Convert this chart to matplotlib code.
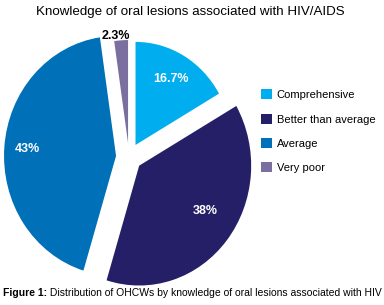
import matplotlib
matplotlib.use("Agg")
import matplotlib.pyplot as plt
import numpy as np
from matplotlib import font_manager as fm

categories = ["Comprehensive", "Better than average", "Average", "Very poor"]
values = [16.7, 38, 43, 2.3]
colors = ["#00AEEF", "#241F66", "#0070B8", "#7B6FA0"]
title = "Knowledge of oral lesions associated with HIV/AIDS"
caption_bold = "Figure 1:"
caption_rest = " Distribution of OHCWs by knowledge of oral lesions associated with HIV"

W, H = 384, 305
fig = plt.figure(figsize=(W / 100, H / 100), dpi=100)
names = {f.name for f in fm.fontManager.ttflist}
main_font = "Liberation Sans" if "Liberation Sans" in names else "DejaVu Sans"
narrow_font = "Liberation Sans Narrow" if "Liberation Sans Narrow" in names else main_font

vstretch = 1.07
ax = fig.add_axes([0, 0, 1, 1])
R = 112
cx, cy = 129, (H - 157) / vstretch
explode = [13, 13, 13, 13]
radius_scale = [0.86, 1.0, 1.0, 0.86]
label_dist = [0.74, 0.70, 0.79, 1.05]
label_angle_shift = [0, 6, 0, 3]  # degrees, counter-clockwise

wedges, _ = ax.pie(values, colors=colors, startangle=90, counterclock=False,
                   explode=explode, radius=R, center=(cx, cy),
                   wedgeprops=dict(linewidth=0))
for w, s in zip(wedges, radius_scale):
    w.set_radius(R * s)
ax.set_xlim(0, W)
ax.set_ylim(0, H / vstretch)
ax.set_aspect("auto")
ax.axis("off")

for w, v, d, sh in zip(wedges, values, label_dist, label_angle_shift):
    mid = np.deg2rad((w.theta1 + w.theta2) / 2 + sh)
    x = w.center[0] + d * w.r * np.cos(mid)
    y = w.center[1] + d * w.r * np.sin(mid)
    col = "white" if d < 1 else "black"
    ax.text(x, y, f"{v:g}%", ha="center", va="center", color=col,
            fontsize=9, fontweight="bold", family=main_font)

fig.text(190 / W, 1 - 12 / H, title, ha="center", va="center",
         fontsize=9.6, family=main_font)

fig.legend(wedges, categories, loc="upper left",
           bbox_to_anchor=(261 / W, 1 - 89.5 / H), frameon=False,
           prop=dict(family=main_font, size=8), handlelength=1.0,
           handleheight=1.0, handletextpad=0.4, labelspacing=1.22,
           borderpad=0, borderaxespad=0)

t1 = fig.text(3 / W, 1 - 293 / H, caption_bold, ha="left", va="center",
              fontsize=7.5, fontweight="bold", family=narrow_font)
fig.canvas.draw()
bb = t1.get_window_extent()
fig.text(bb.x1 / W, 1 - 293 / H, caption_rest, ha="left", va="center",
         fontsize=7.5, family=narrow_font)

fig.savefig("out.png", dpi=100)
